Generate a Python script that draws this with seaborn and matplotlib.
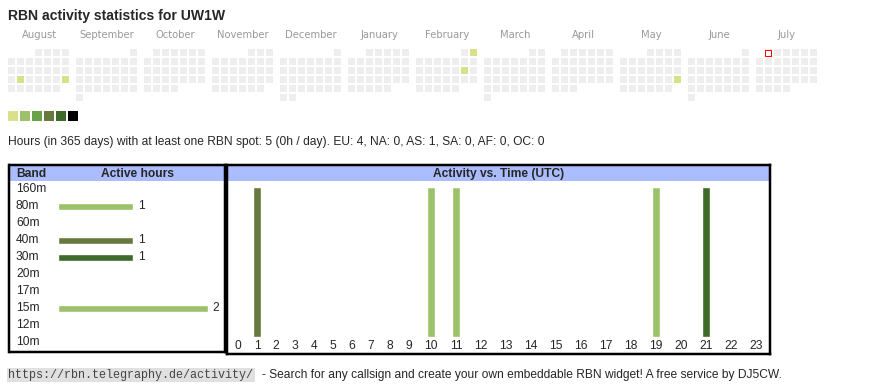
import calendar
from datetime import date

import matplotlib
matplotlib.use("Agg")
import matplotlib.pyplot as plt
import matplotlib.transforms as mtransforms
from matplotlib.colors import ListedColormap
from matplotlib.patches import Rectangle
import numpy as np
import pandas as pd
import seaborn as sns

sns.set_style("white")
plt.rcParams["font.family"] = ["Liberation Sans", "DejaVu Sans"]

# ---------------- data ----------------
callsign = "UW1W"
months = [(2024, 8), (2024, 9), (2024, 10), (2024, 11), (2024, 12), (2025, 1),
          (2025, 2), (2025, 3), (2025, 4), (2025, 5), (2025, 6), (2025, 7)]
month_names = ["August", "September", "October", "November", "December", "January",
               "February", "March", "April", "May", "June", "July"]
active_days = [date(2024, 8, 20), date(2024, 8, 25), date(2025, 2, 2),
               date(2025, 2, 15), date(2025, 5, 25)]
active_levels = [1, 1, 1, 1, 1]
marked_day = date(2025, 7, 1)

# level 0 = no spot, 1..6 = legend colours
level_colors = ["#eeeeee", "#d9e08a", "#9dc16a", "#6aa24a", "#657a3c", "#3e6a2a", "#000000"]
legend_levels = [1, 2, 3, 4, 5, 6]

bands = ["160m", "80m", "60m", "40m", "30m", "20m", "17m", "15m", "12m", "10m"]
band_hours = [0, 1, 0, 1, 1, 0, 0, 2, 0, 0]
band_colors = {"160m": "#9dc16a", "80m": "#9dc16a", "60m": "#9dc16a", "40m": "#657a3c",
               "30m": "#3e6a2a", "20m": "#9dc16a", "17m": "#9dc16a", "15m": "#9dc16a",
               "12m": "#9dc16a", "10m": "#9dc16a"}

hours = list(range(24))
active_hours = [1, 10, 11, 19, 21]
active_hour_bands = ["40m", "15m", "15m", "80m", "30m"]
active_hour_values = [1, 1, 1, 1, 1]

summary = ("Hours (in 365 days) with at least one RBN spot: 5 (0h / day). "
           "EU: 4, NA: 0, AS: 1, SA: 0, AF: 0, OC: 0")
url = "https://rbn.telegraphy.de/activity/"
footer = "- Search for any callsign and create your own embeddable RBN widget! A free service by DJ5CW."

# ---------------- layout helpers (pixels) ----------------
W, H = 870, 390
fig = plt.figure(figsize=(W / 100, H / 100), dpi=100)
PT = 0.72  # points per pixel


def px_box(x0, y0, x1, y1):
    return [x0 / W, 1 - y1 / H, (x1 - x0) / W, (y1 - y0) / H]


def fx(x):
    return x / W


def fy(y):
    return 1 - y / H


fs = 12 * PT
header_blue = "#abbcff"

# ---------------- title ----------------
fig.text(fx(8), fy(16), f"RBN activity statistics for {callsign}", fontsize=14 * PT,
         fontweight="bold", ha="left", va="center")

# ---------------- calendar ----------------
cmap = ListedColormap(level_colors)
for m, ((yr, mo), name) in enumerate(zip(months, month_names)):
    grid = np.full((6, 7), np.nan)
    first_wd, ndays = calendar.monthrange(yr, mo)
    for d in range(1, ndays + 1):
        pos = first_wd + d - 1
        grid[pos // 7, pos % 7] = 0
    for day, lvl in zip(active_days, active_levels):
        if (day.year, day.month) == (yr, mo):
            pos = first_wd + day.day - 1
            grid[pos // 7, pos % 7] = lvl

    x0 = 7 + 68 * m
    ax = fig.add_axes(px_box(x0, 48, x0 + 63, 102))
    sns.heatmap(grid, ax=ax, cmap=cmap, vmin=-0.5, vmax=len(level_colors) - 0.5,
                cbar=False, linewidths=2 * PT, linecolor="white",
                xticklabels=False, yticklabels=False)
    ax.set_axis_off()
    if (marked_day.year, marked_day.month) == (yr, mo):
        pos = first_wd + marked_day.day - 1
        r, c = pos // 7, pos % 7
        ax.add_patch(Rectangle((c + 1.5 / 9, r + 1.5 / 9), 6 / 9, 6 / 9,
                               facecolor="white", edgecolor="red", lw=1 * PT))
    fig.text(fx(x0 + 32), fy(35), name, ha="center", va="center",
             fontsize=10 * PT, color="#999999", family="DejaVu Sans")

# colour legend
axl = fig.add_axes(px_box(7, 110, 7 + 12 * len(legend_levels), 122))
sns.heatmap([legend_levels], ax=axl, cmap=cmap, vmin=-0.5, vmax=len(level_colors) - 0.5,
            cbar=False, linewidths=2 * PT, linecolor="white",
            xticklabels=False, yticklabels=False)
axl.set_axis_off()

fig.text(fx(8), fy(142), summary, fontsize=fs, ha="left", va="center")

# ---------------- band table ----------------
bx0, by0, bx1, by1 = 9.5, 165, 225.5, 352
row0, pitch = 189.3, 17.0
bar_x0, px_hour = 58, 75

axb = fig.add_axes(px_box(bx0, by0, bx1, by1))
df_b = pd.DataFrame({"band": bands, "hours": band_hours})
sns.barplot(data=df_b, x="hours", y="band", hue="band", palette=band_colors,
            orient="h", width=7 / 17, legend=False, saturation=1, ax=axb)
axb.set_ylim((by1 - row0) / pitch, (by0 - row0) / pitch)
axb.set_xlim((bx0 - bar_x0) / px_hour, (bx1 - bar_x0) / px_hour)
for cont in axb.containers:
    axb.bar_label(cont, labels=[f"{int(v)}" if v > 0 else "" for v in cont.datavalues],
                  padding=3.5, fontsize=fs)
axb.axhspan((by0 - row0) / pitch, (181 - row0) / pitch, color=header_blue, lw=0, zorder=0)
tb = mtransforms.blended_transform_factory(axb.transAxes, axb.transData)
lx = (16 - bx0) / (bx1 - bx0)
for i, b in enumerate(bands):
    axb.text(lx, i, b, transform=tb, ha="left", va="center", fontsize=fs)
hy = (173.5 - row0) / pitch
axb.text(lx, hy, "Band", transform=tb, ha="left", va="center", fontsize=fs, fontweight="bold")
axb.text((138 - bar_x0) / px_hour, hy, "Active hours", ha="center", va="center",
         fontsize=fs, fontweight="bold")
axb.set_xticks([])
axb.set_yticks([])
axb.set_xlabel("")
axb.set_ylabel("")
for s in axb.spines.values():
    s.set_visible(True)
    s.set_color("black")
    s.set_linewidth(2.5 * PT)

# ---------------- activity vs time ----------------
ax0, ay0, ax1, ay1 = 227.5, 165, 770.5, 353.7
base, span = 336.7, 150.0
axa = fig.add_axes(px_box(ax0, ay0, ax1, ay1))
col_w = np.array([19 if h < 10 else 25 for h in hours], dtype=float)
edges = np.concatenate([[0], np.cumsum(col_w)])
centers = (edges[:-1] + edges[1:]) / 2
axa.bar(centers[active_hours], active_hour_values, width=8,
        color=[band_colors[b] for b in active_hour_bands])
axa.set_xlim(-(228.5 - ax0), ax1 - 228.5)
axa.set_ylim((base - ay1) / span, (base - ay0) / span)
axa.axhspan((base - 181) / span, (base - ay0) / span, color=header_blue, lw=0, zorder=0)
axa.text(edges[-1] / 2, (base - 173.5) / span, "Activity vs. Time (UTC)",
         ha="center", va="center", fontsize=fs, fontweight="bold")
for h in hours:
    axa.text(centers[h], (base - 345.7) / span, str(h), ha="center", va="center", fontsize=fs)
axa.set_xticks([])
axa.set_yticks([])
for s in axa.spines.values():
    s.set_visible(True)
    s.set_color("black")
    s.set_linewidth(2.5 * PT)

# ---------------- footer ----------------
fig.text(fx(8.5), fy(375), url, family="Liberation Mono", fontsize=11.7 * PT, color="#444444",
         ha="left", va="center",
         bbox=dict(facecolor="#e0e0e0", edgecolor="none", pad=1))
fig.text(fx(262.5), fy(375), footer, fontsize=fs, ha="left", va="center")

fig.savefig("out.png", dpi=100)
